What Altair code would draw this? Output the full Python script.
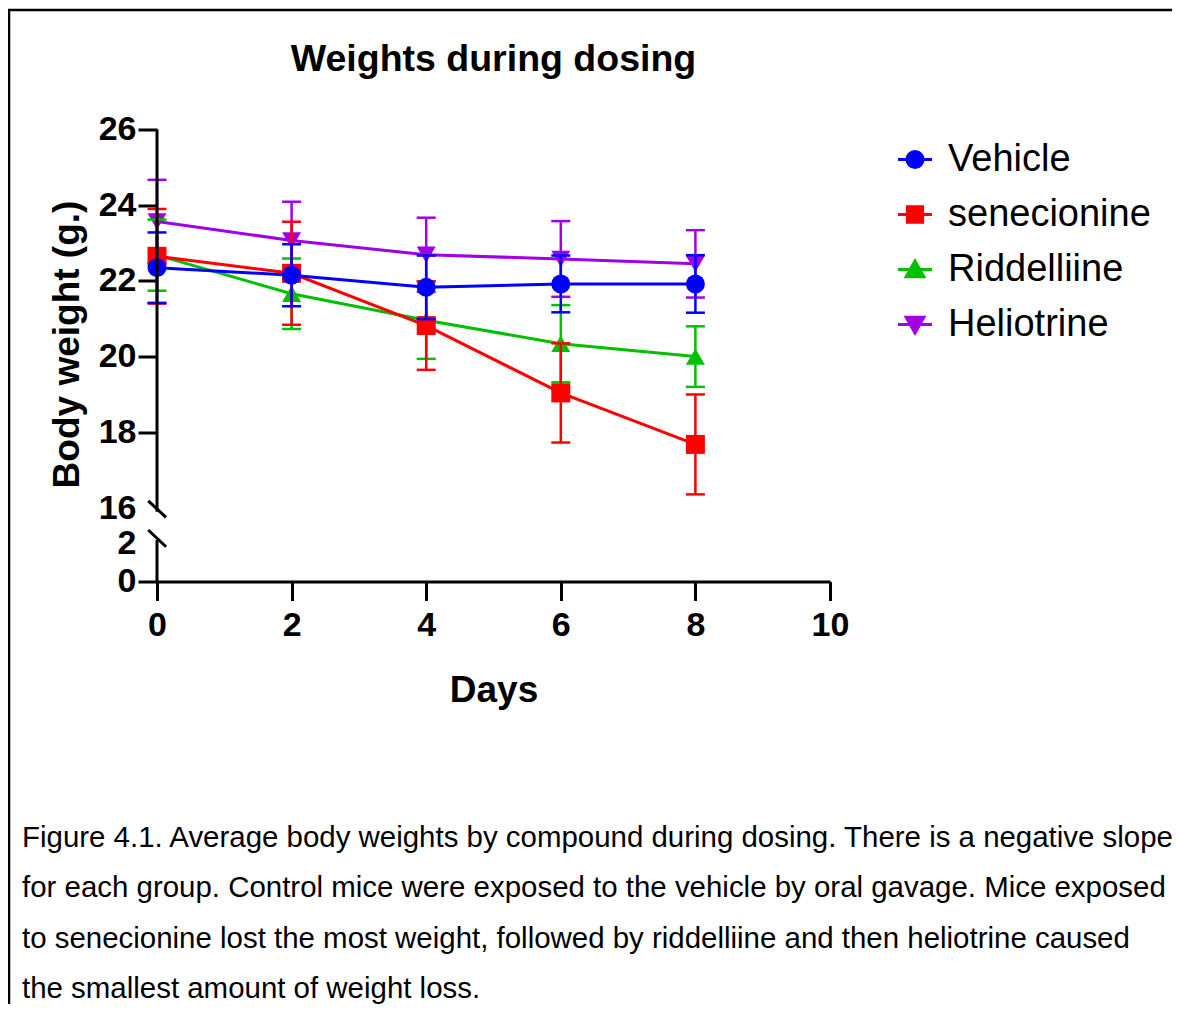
import altair as alt
import pandas as pd

# ---------------- data ----------------
days = [0, 2, 4, 6, 8]
series_names = ["Vehicle", "senecionine", "Riddelliine", "Heliotrine"]
series_colors = ["#0000FF", "#FF0000", "#00C000", "#A100E5"]
series_shapes = ["circle", "square", "triangle-up", "triangle-down"]

vehicle_mean = [22.35, 22.15, 21.83, 21.92, 21.92]
vehicle_err = [0.93, 0.82, 0.84, 0.75, 0.76]
senecionine_mean = [22.65, 22.20, 20.82, 19.04, 17.68]
senecionine_err = [1.25, 1.36, 1.17, 1.31, 1.32]
riddelliine_mean = [22.68, 21.66, 20.96, 20.34, 20.00]
riddelliine_err = [0.94, 0.93, 1.02, 1.02, 0.80]
heliotrine_mean = [23.57, 23.07, 22.69, 22.58, 22.45]
heliotrine_err = [1.10, 1.02, 0.98, 1.00, 0.89]

x_ticks = [0, 2, 4, 6, 8, 10]
y_ticks = [0, 2, 16, 18, 20, 22, 24, 26]

title_text = "Weights during dosing"
x_title = "Days"
y_title = "Body weight (g.)"
caption_lines = [
    "Figure 4.1. Average body weights by compound during dosing. There is a negative slope",
    "for each group. Control mice were exposed to the vehicle by oral gavage. Mice exposed",
    "to senecionine lost the most weight, followed by riddelliine and then heliotrine caused",
    "the smallest amount of weight loss.",
]

# legend symbols: a short line through the marker (normalised -1..1 symbol paths)
legend_paths = [
    "M-1,0L1,0M-0.47,0A0.47,0.47 0 1,0 0.47,0A0.47,0.47 0 1,0 -0.47,0Z",
    "M-1,0L1,0M-0.45,-0.45L0.45,-0.45L0.45,0.45L-0.45,0.45Z",
    "M-1,0L1,0M0,-0.5L0.52,0.42L-0.52,0.42Z",
    "M-1,0L1,0M0,0.5L0.52,-0.42L-0.52,-0.42Z",
]

# ---------------- tables ----------------
means = [vehicle_mean, senecionine_mean, riddelliine_mean, heliotrine_mean]
errs = [vehicle_err, senecionine_err, riddelliine_err, heliotrine_err]
rows = []
for name, m, e in zip(series_names, means, errs):
    for d, mv, ev in zip(days, m, e):
        rows.append({"series": name, "day": d, "mean": mv, "lo": mv - ev, "hi": mv + ev})
df = pd.DataFrame(rows)

FONT = "Liberation Sans"
W, H = 673, 452

x_axis = alt.Axis(values=x_ticks, title=x_title, titleFont=FONT, titleFontSize=37,
                  titleFontWeight="bold", titleColor="black", titleX=W / 2, titleY=120,
                  titleBaseline="alphabetic", titleAlign="center",
                  labelFontSize=34, labelPadding=8, labelFlush=False, labelOverlap=False,
                  grid=False)
y_axis = alt.Axis(values=y_ticks, title=y_title, titleFont=FONT, titleFontSize=37,
                  titleFontWeight="bold", titleColor="black", titleX=-79, titleY=214.5,
                  titleBaseline="alphabetic", titleAlign="center", titleAngle=270,
                  labelFontSize=34, labelPadding=2, labelFlush=False, labelOverlap=False,
                  domain=False, grid=False,
                  tickOpacity={"condition": {"test": "datum.value == 2 || datum.value == 16",
                                             "value": 0}, "value": 1})

x_scale = alt.Scale(domain=[0, 10], nice=False, zero=False)
y_scale = alt.Scale(domain=[0, 2, 16, 26], range=[H, 414, 378.5, 0], nice=False, zero=False)
color_scale = alt.Scale(domain=series_names, range=series_colors)

leg = alt.Legend(orient="none", legendX=739, legendY=11, title=None,
                 symbolSize=1156, symbolStrokeWidth=3, symbolOpacity=1,
                 labelFont=FONT, labelFontSize=38, labelColor="black",
                 labelOffset=14, rowPadding=17, padding=0, labelLimit=0)

X = alt.X("day:Q", scale=x_scale, axis=x_axis)
C = alt.Color("series:N", scale=color_scale, legend=None)

layers = []
# legend-only layer first (no rows drawn; entries come from the explicit domain)
layers.append(alt.Chart(df).transform_filter("false").mark_point(filled=True).encode(
    x=X, y=alt.Y("mean:Q", scale=y_scale, axis=y_axis),
    color=alt.Color("series:N", scale=color_scale, legend=leg),
    stroke=alt.Stroke("series:N", scale=alt.Scale(domain=series_names, range=series_colors),
                      legend=leg),
    shape=alt.Shape("series:N", scale=alt.Scale(domain=series_names, range=legend_paths),
                    legend=leg)))

for name, shp in [("Heliotrine", "triangle-down"), ("Riddelliine", "triangle-up"),
                  ("senecionine", "square"), ("Vehicle", "circle")]:
    base = alt.Chart(df).transform_filter(alt.datum.series == name)
    layers.append(base.mark_rule(strokeWidth=2.5).encode(
        x=X, y=alt.Y("lo:Q", scale=y_scale, axis=y_axis), y2="hi:Q", color=C))
    layers.append(base.transform_fold(["lo", "hi"], as_=["which", "yv"]).mark_tick(
        orient="horizontal", size=19, thickness=2.5, opacity=1).encode(
        x=X, y=alt.Y("yv:Q", scale=y_scale, axis=y_axis), color=C))
    layers.append(base.mark_line(strokeWidth=3).encode(
        x=X, y=alt.Y("mean:Q", scale=y_scale, axis=y_axis), color=C))
    layers.append(base.mark_point(filled=True, size=360, opacity=1, shape=shp).encode(
        x=X, y=alt.Y("mean:Q", scale=y_scale, axis=y_axis), color=C))

# broken y axis: two axis segments and two break slashes
seg_df = pd.DataFrame({"day": [0, 0], "y": [14.54, 0], "y2": [26, 3.38]})
layers.append(alt.Chart(seg_df).mark_rule(strokeWidth=3, color="black").encode(
    x=X, y=alt.Y("y:Q", scale=y_scale, axis=y_axis), y2="y2:Q"))
slash_df = pd.DataFrame({"day": [-0.13, -0.13], "day2": [0.134, 0.134],
                         "y": [16.19, 7.32], "y2": [12.33, 1.83]})
layers.append(alt.Chart(slash_df).mark_rule(strokeWidth=3, color="black").encode(
    x=X, x2="day2:Q", y=alt.Y("y:Q", scale=y_scale, axis=y_axis), y2="y2:Q"))

# title, figure frame (top and left border) and caption
one = pd.DataFrame({"t": [title_text]})
layers.append(alt.Chart(one).mark_text(
    align="center", baseline="alphabetic", font=FONT, fontSize=37.5, fontWeight="bold",
    color="black").encode(text="t:N", x=alt.value(W / 2), y=alt.value(-59)))
layers.append(alt.Chart(one).mark_rule(strokeWidth=2.5, color="black").encode(
    x=alt.value(-149), x2=alt.value(1030), y=alt.value(-119.5), y2=alt.value(-119.5)))
layers.append(alt.Chart(one).mark_rule(strokeWidth=2.5, color="black").encode(
    x=alt.value(-148), x2=alt.value(-148), y=alt.value(-120.5), y2=alt.value(900)))
cap_df = pd.DataFrame({"t": ["\n".join(caption_lines)]})
layers.append(alt.Chart(cap_df).mark_text(
    align="left", baseline="alphabetic", lineBreak="\n", lineHeight=50.3,
    font=FONT, fontSize=29.45, color="black").encode(
    text="t:N", x=alt.value(-135), y=alt.value(717.5)))

chart = alt.layer(*layers).properties(
    width=W, height=H,
    padding={"left": 149, "top": 121.5, "right": 342, "bottom": 422},
    autosize=alt.AutoSizeParams(type="none"),
).configure_view(stroke=None).configure_axis(
    labelFont=FONT, labelFontWeight="bold", labelColor="black",
    tickColor="black", domainColor="black", tickWidth=3, domainWidth=3, tickSize=19,
)

chart.save("out.html", embed_options={"renderer": "svg", "actions": False})
